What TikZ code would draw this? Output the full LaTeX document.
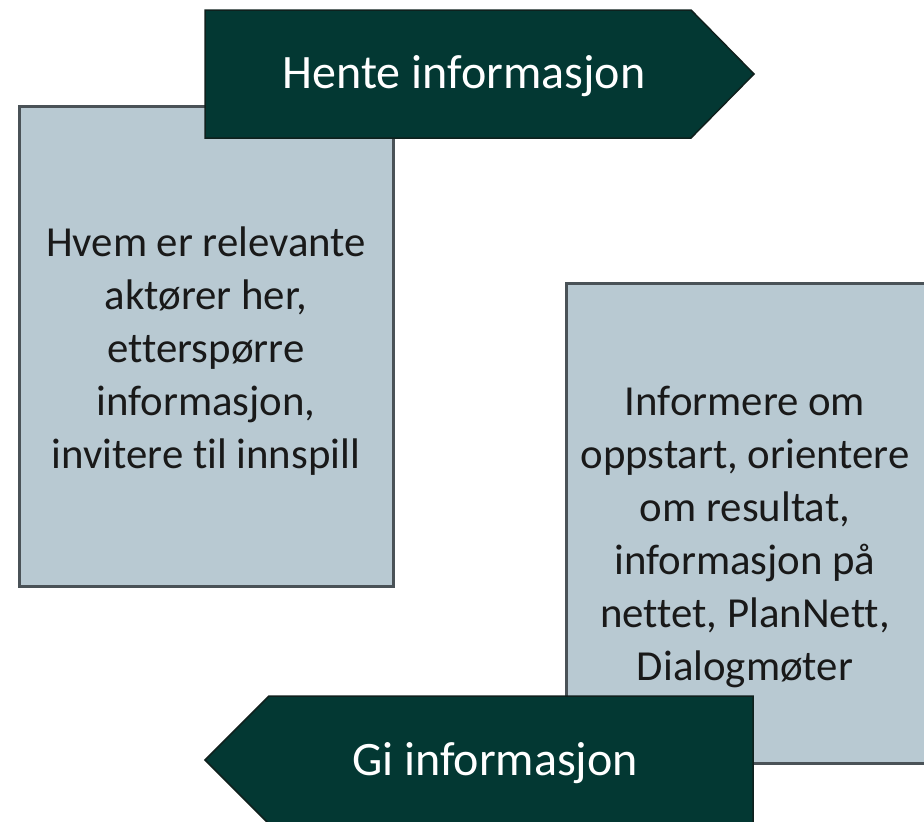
\documentclass[tikz,border=0pt]{standalone}
\usepackage{fontspec}
\setmainfont[RawFeature=-liga]{Carlito}
\definecolor{darkgreen}{HTML}{033833}
\definecolor{darkedge}{HTML}{0F201D}
\definecolor{boxfill}{HTML}{B8C9D2}
\definecolor{boxedge}{HTML}{4A5257}
\tikzset{
  infobox/.style={fill=boxfill, draw=boxedge, line width=3pt},
  arrowshape/.style={fill=darkgreen, draw=darkedge, line width=1.5pt, line join=miter},
  arrowtext/.style={text=white, font=\fontsize{48}{56}\selectfont, inner sep=0pt},
  boxtext/.style={text=black!90, font=\fontsize{42.8}{53}\selectfont, align=center, inner sep=0pt}
}
\begin{document}
\begin{tikzpicture}[x=1pt,y=-1pt]
\useasboundingbox (0,0) rectangle (924,822);
% left box
\draw[infobox] (19,106) rectangle (393,586);
% top arrow
\draw[arrowshape] (205,10) -- (691,10) -- (754,74) -- (691,138) -- (205,138) -- cycle;
\node[arrowtext] (hente) at (464,76) {Hente informasjon};
\node[boxtext] (left) at (206,351) {Hvem er relevante\\aktører her,\\etterspørre\\informasjon,\\invitere til innspill};
% right box
\draw[infobox] (566,283) rectangle (926,763);
\node[boxtext] (right) at (745,537) {Informere om\\oppstart, orientere\\om resultat,\\informasjon på\\nettet, PlanNett,\\Dialogmøter};
% bottom arrow
\draw[arrowshape] (753,696) -- (269,696) -- (205,760) -- (269,824) -- (753,824) -- cycle;
\node[arrowtext] (gi) at (495,763) {Gi informasjon};
\end{tikzpicture}
\end{document}
